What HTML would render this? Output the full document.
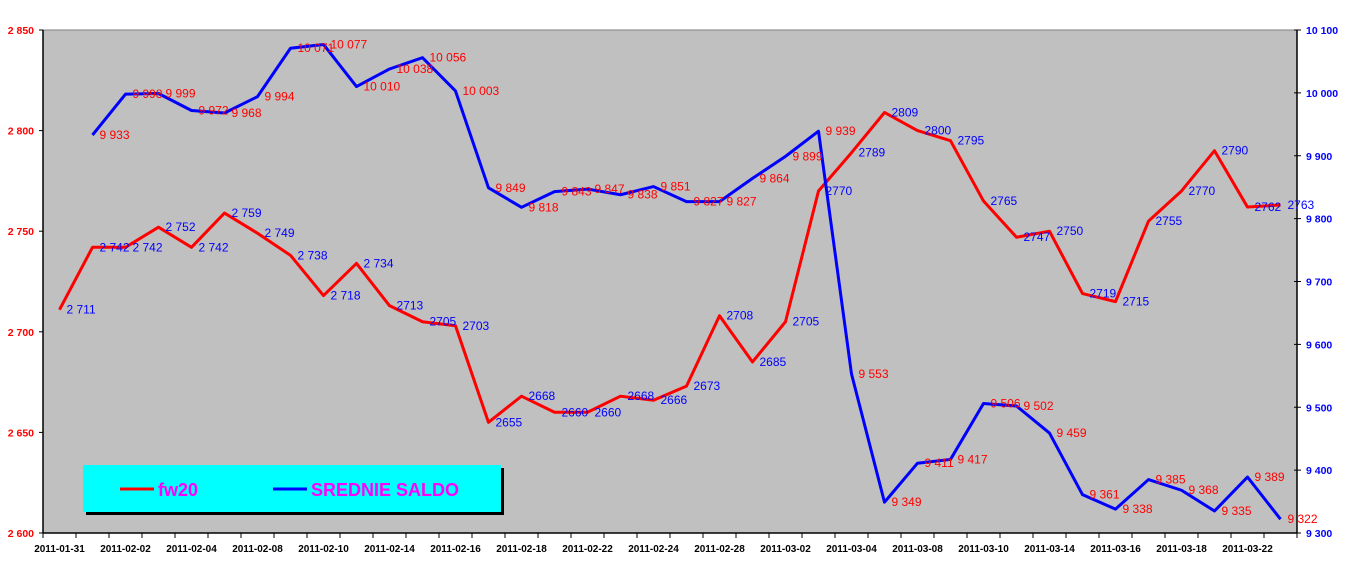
<!DOCTYPE html>
<html><head><meta charset="utf-8"><style>
body{margin:0;background:#fff;}
svg{display:block;font-family:"Liberation Sans",Arial,sans-serif;}
</style></head><body>
<svg id="chart" width="1362" height="572">
<rect x="43" y="30" width="1254" height="503" fill="#c0c0c0"/>
<line x1="43" y1="30" x2="1297" y2="30" stroke="#808080" stroke-width="1"/>
<g id="axes"></g>
<g id="series"></g>
<g id="labels"></g>
<g>
<rect x="86" y="468" width="418" height="47" fill="#000"/>
<rect x="83" y="465" width="418" height="47" fill="#00ffff"/>
<line x1="120" y1="489" x2="154" y2="489" stroke="#ff0000" stroke-width="3"/>
<text x="158" y="496" font-size="18" font-weight="bold" fill="#ff00ff">fw20</text>
<line x1="273" y1="489" x2="307" y2="489" stroke="#0000ff" stroke-width="3"/>
<text x="311" y="496" font-size="18" font-weight="bold" fill="#ff00ff">SREDNIE SALDO</text>
</g>
</svg>
<script>
const dates=["2011-01-31","2011-02-01","2011-02-02","2011-02-03","2011-02-04","2011-02-07","2011-02-08","2011-02-09","2011-02-10","2011-02-11","2011-02-14","2011-02-15","2011-02-16","2011-02-17","2011-02-18","2011-02-21","2011-02-22","2011-02-23","2011-02-24","2011-02-25","2011-02-28","2011-03-01","2011-03-02","2011-03-03","2011-03-04","2011-03-07","2011-03-08","2011-03-09","2011-03-10","2011-03-11","2011-03-14","2011-03-15","2011-03-16","2011-03-17","2011-03-18","2011-03-21","2011-03-22","2011-03-23"];
const fw20=[2711,2742,2742,2752,2742,2759,2749,2738,2718,2734,2713,2705,2703,2655,2668,2660,2660,2668,2666,2673,2708,2685,2705,2770,2789,2809,2800,2795,2765,2747,2750,2719,2715,2755,2770,2790,2762,2763];
const saldo=[null,9933,9998,9999,9972,9968,9994,10071,10077,10010,10038,10056,10003,9849,9818,9843,9847,9838,9851,9827,9827,9864,9899,9939,9553,9349,9411,9417,9506,9502,9459,9361,9338,9385,9368,9335,9389,9322];
const leftTicks=[2600,2650,2700,2750,2800,2850];
const rightTicks=[9300,9400,9500,9600,9700,9800,9900,10000,10100];
const NS="http://www.w3.org/2000/svg";
const X0=43,X1=1297,Y0=30,Y1=533,BW=(X1-X0)/dates.length;
const xS=i=>X0+BW*(i+0.5);
const yL=v=>Y1-(v-2600)/(2850-2600)*(Y1-Y0);
const yR=v=>Y1-(v-9300)/(10100-9300)*(Y1-Y0);
const fmt=v=>{const s=String(v);return s.length>3?s.slice(0,s.length-3)+" "+s.slice(-3):s;};
function mk(tag,attrs,parent,txt){const e=document.createElementNS(NS,tag);for(const k in attrs)e.setAttribute(k,attrs[k]);if(txt!==undefined)e.textContent=txt;parent.appendChild(e);return e;}
const ax=document.getElementById('axes');
let e=mk('line',{x1:X0,y1:Y0,x2:X0,y2:Y1,stroke:'#000','stroke-width':1.5},ax);


e=mk('line',{x1:X1,y1:Y0,x2:X1,y2:Y1,stroke:'#000','stroke-width':1.5},ax);


e=mk('line',{x1:X0,y1:Y1,x2:X1,y2:Y1,stroke:'#000','stroke-width':1.5},ax);


leftTicks.forEach(v=>{const y=yL(v);mk('line',{x1:X0-4,y1:y,x2:X0,y2:y,stroke:'#000'},ax);
const t=mk('text',{x:X0-9,y:y+4,'text-anchor':'end','font-size':10.5,'font-weight':'bold',fill:'#ff0000'},ax,fmt(v));

});
rightTicks.forEach(v=>{const y=yR(v);mk('line',{x1:X1-3,y1:y,x2:X1+4,y2:y,stroke:'#000'},ax);
const t=mk('text',{x:X1+9,y:y+4,'font-size':10.5,'font-weight':'bold',fill:'#0000ff'},ax,fmt(v));

});
for(let i=0;i<=dates.length;i++){const x=X0+BW*i;mk('line',{x1:x,y1:Y1,x2:x,y2:Y1+5,stroke:'#000'},ax);}
dates.forEach((d,i)=>{if(i%2)return;const t=mk('text',{x:xS(i),y:552,'text-anchor':'middle','font-size':10,'font-weight':'bold',fill:'#000'},ax,d);

});
const sg=document.getElementById('series'),lg=document.getElementById('labels');
let p='';fw20.forEach((v,i)=>{p+=(i?'L':'M')+xS(i)+','+yL(v);});
e=mk('path',{d:p,fill:'none',stroke:'#ff0000','stroke-width':3,'stroke-linejoin':'round'},sg);


p='';let first=true;saldo.forEach((v,i)=>{if(v===null)return;p+=(first?'M':'L')+xS(i)+','+yR(v);first=false;});
e=mk('path',{d:p,fill:'none',stroke:'#0000ff','stroke-width':3,'stroke-linejoin':'round'},sg);


fw20.forEach((v,i)=>{const t=mk('text',{x:xS(i)+7,y:yL(v)+4,'font-size':12,fill:'#0000ff'},lg,i<10?fmt(v):String(v));

});
saldo.forEach((v,i)=>{if(v===null)return;const t=mk('text',{x:xS(i)+7,y:yR(v)+4,'font-size':12,fill:'#ff0000'},lg,fmt(v));

});
</script>
</body></html>
